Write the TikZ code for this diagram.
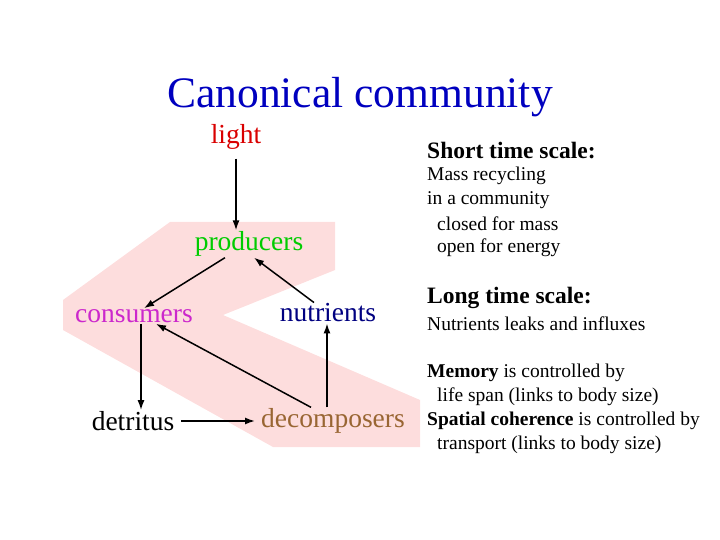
\documentclass[tikz,border=0pt]{standalone}
\usepackage{fontspec}
\setmainfont{Liberation Serif}
\usetikzlibrary{arrows.meta}
\begin{document}
\begin{tikzpicture}[x=1pt,y=-1pt,
 lab/.style={font=\fontsize{27.5}{30}\selectfont,inner sep=1pt},
 txt/.style={font=\fontsize{19.5}{21}\selectfont,anchor=west,inner sep=0pt},
 hd/.style={font=\fontsize{23.5}{25}\selectfont\bfseries,anchor=west,inner sep=0pt},
 arr/.style={-{Latex[length=10pt,width=7pt]},line width=1.5pt}]
\useasboundingbox (0,0) rectangle (720,540);
\definecolor{band}{RGB}{253,221,221}
\definecolor{mag}{RGB}{204,40,204}
\fill[band] (170,222)--(335,222)--(335,270)--(223,315)--(420,400)--(420,447)--(273,447)--(63,330)--(63,300)--cycle;
\node[font=\fontsize{43.5}{46}\selectfont,text=blue!75!black] (title) at (360,97) {Canonical community};
\node[lab,text=red!85!black] (light) at (236,137) {light};
\node[lab,text=green!80!black] (prod) at (249,244) {producers};
\node[lab,text=mag] (cons) at (134,316) {consumers};
\node[lab,text=blue!50!black] (nutr) at (328,313) {nutrients};
\node[lab] (detr) at (133,421) {detritus};
\node[lab,text=brown!80!black] (deco) at (333,421) {decomposers};
\draw[arr] ([yshift=-8pt]light.south) -- ([xshift=-13pt]prod.north);
\draw[arr] ([xshift=-24pt]prod.south) -- ([xshift=10pt]cons.north);
\draw[arr] ([xshift=-14pt]nutr.north) -- ([xshift=5pt]prod.south);
\draw[arr] ([xshift=-22pt]deco.north) -- ([xshift=22pt]cons.south);
\draw[arr] ([xshift=7pt]cons.south) -- ([xshift=8pt]detr.north);
\draw[arr] ([xshift=6pt]detr.east) -- ([xshift=-5pt]deco.west);
\draw[arr] ([xshift=-6pt]deco.north) -- ([xshift=-1pt]nutr.south);
\node[hd] (s1) at (427,151) {Short time scale:};
\node[txt] (s2) at (427,176) {Mass recycling};
\node[txt] (s3) at (427,200) {in a community};
\node[txt] (s4) at (437,224) {closed for mass};
\node[txt] (s5) at (437,248) {open for energy};
\node[hd] (l1) at (427,298) {Long time scale:};
\node[txt] (l2) at (427,324) {Nutrients leaks and influxes};
\node[txt] (m1) at (427,373) {\textbf{Memory} is controlled by};
\node[txt] (m2) at (437,397) {life span (links to body size)};
\node[txt] (m3) at (427,421) {\textbf{Spatial coherence} is controlled by};
\node[txt] (m4) at (437,445) {transport (links to body size)};
\end{tikzpicture}
\end{document}
